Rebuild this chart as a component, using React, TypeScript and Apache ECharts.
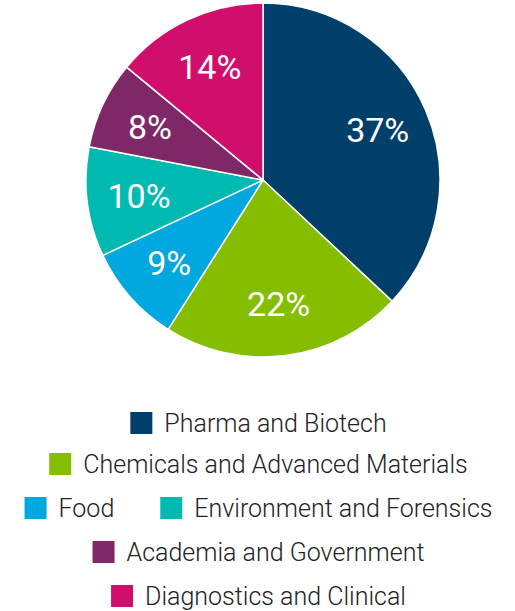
import React, { useEffect, useRef } from "react";
import * as echarts from "echarts";

const categories = [
  "Pharma and Biotech",
  "Chemicals and Advanced Materials",
  "Food",
  "Environment and Forensics",
  "Academia and Government",
  "Diagnostics and Clinical",
];
const shares = [37, 22, 9, 10, 8, 14];
const colors = ["#003f6a", "#85bd00", "#00a8e0", "#00bab2", "#7e2868", "#d20e6d"];
const legendRows = [[0], [1], [2, 3], [4], [5]];
const legendRowTops = [410, 451, 495, 539, 583];

export default function App() {
  const ref = useRef<HTMLDivElement>(null);
  useEffect(() => {
    document.body.style.margin = "0";
    const chart = echarts.init(ref.current!, null, { renderer: "svg" });
    const data = categories.map((name, i) => ({
      name,
      value: shares[i],
      itemStyle: { color: colors[i] },
    }));
    const labelData = categories.map((name, i) => ({
      name,
      value: shares[i],
      itemStyle: { color: "rgba(0,0,0,0)" },
    }));
    chart.setOption({
      animation: false,
      legend: legendRows.map((row, r) => ({
        top: legendRowTops[r],
        left: "center",
        orient: "horizontal",
        padding: 0,
        itemWidth: 24,
        itemHeight: 24,
        itemGap: 44,
        selectedMode: false,
        icon: "rect",
        textStyle: {
          fontFamily: "Roboto",
          fontWeight: 300,
          fontSize: 25,
          lineHeight: 24,
          color: "#222",
          padding: [0, 0, 0, 6],
        },
        data: row.map((i) => ({ name: categories[i], itemStyle: { color: colors[i] } })),
      })),
      series: [
        {
          type: "pie",
          center: [263, 180],
          radius: [0, 177],
          startAngle: 90,
          clockwise: true,
          silent: true,
          label: { show: false },
          labelLine: { show: false },
          itemStyle: { borderColor: "#fff", borderWidth: 1.5 },
          data,
        },
        {
          type: "pie",
          center: [263, 180],
          radius: [67, 177],
          startAngle: 90,
          clockwise: true,
          silent: true,
          label: {
            show: true,
            position: "inside",
            formatter: "{c}%",
            color: "#fff",
            fontFamily: "Roboto",
            fontWeight: 400,
            fontSize: 34,
          },
          labelLine: { show: false },
          itemStyle: { borderWidth: 0 },
          data: labelData,
        },
      ],
    });
    return () => chart.dispose();
  }, []);
  return <div ref={ref} style={{ width: 515, height: 611 }} />;
}
